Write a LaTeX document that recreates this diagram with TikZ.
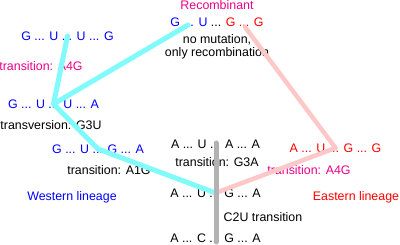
\documentclass[tikz,border=0pt]{standalone}
\usepackage{fontspec}
\setmainfont{Liberation Sans}
\usetikzlibrary{positioning}
\definecolor{westline}{RGB}{128,250,250}
\definecolor{eastline}{RGB}{255,200,200}
\definecolor{midline}{RGB}{178,178,178}
\tikzset{
  seq/.style = {inner sep=0pt, font=\fontsize{12.4}{14}\selectfont},
  lbl/.style = {inner sep=0pt, align=center, font=\fontsize{12.4}{13.5}\selectfont},
  westpath/.style = {draw=westline, line width=5pt, line cap=round, line join=round},
  eastpath/.style = {draw=eastline, line width=4.5pt, line cap=round, line join=round},
  midpath/.style = {draw=midline, line width=5pt, line cap=round}
}

\begin{document}
\begin{tikzpicture}[x=1pt, y=-1pt]
\useasboundingbox (0,0) rectangle (400,245);

% Recombinant (top)
\node[lbl, magenta] (rechead) at (217,5.5) {Recombinant};
\node[seq] (rec) at (217,22) {\textcolor{blue}{G ... U} ... \textcolor{red}{G ... G}};
\node[lbl] (recnote) at (217,47) {no mutation,\\only recombination};
\coordinate (recw) at (188,25);
\coordinate (rece) at (245,27);

% Western lineage
\node[seq, blue] (w1) at (67.5,36) {G ... U ... U ... G};
\node[lbl, magenta] (w1mut) at (41,66) {transition: A4G};
\node[seq, blue] (w2) at (53.5,104) {G ... U ... U ... A};
\node[lbl] (w2mut) at (51,125) {transversion: G3U};
\node[seq, blue] (w3) at (98,149) {G ... U ... G ... A};
\node[lbl] (w3mut) at (109,170) {transition: A1G};
\node[lbl, blue] (west) at (72,197) {Western lineage};

% Middle column
\node[seq] (m1) at (215.5,144) {A ... U ... A ... A};
\node[lbl] (m1mut) at (217,162) {transition: G3A};
\node[seq] (m2) at (215.5,193) {A ... U ... G ... A};
\node[lbl] (m2mut) at (263,217) {C2U transition};
\node[seq] (m3) at (215.5,238.5) {A ... C ... G ... A};
\coordinate (mtop) at (216,143);
\coordinate (mbot) at (216,242);

% Eastern lineage
\node[seq, red] (e1) at (335.5,148) {A ... U ... G ... G};
\node[lbl, magenta] (e1mut) at (309,170) {transition: A4G};
\node[lbl, red] (east) at (356,197) {Eastern lineage};

% ----- LINES -----
% West
\draw[westpath] (w1.center) -- (w2.center);
\draw[westpath] (recw) -- (w2.center) -- (w3.center) -- (m2.center);
% East
\draw[eastpath] (rece) -- (e1.center) -- (m2.center);
% C2U step
\draw[midpath] (mtop) -- (mbot);

\end{tikzpicture}
\end{document}
